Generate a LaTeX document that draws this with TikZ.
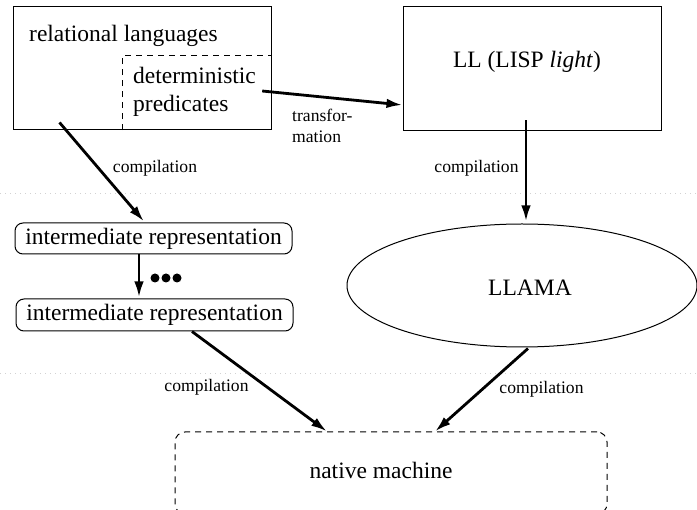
\documentclass[tikz,border=0pt]{standalone}
\usepackage{fontspec}
\setmainfont{Liberation Serif}
\usetikzlibrary{shapes.geometric,arrows.meta,calc}
\begin{document}
\begin{tikzpicture}[x=1pt,y=-1pt,
  big/.style={font=\fontsize{23.5}{28}\selectfont, inner sep=0pt},
  small/.style={font=\fontsize{17.6}{21}\selectfont, inner sep=0pt},
  plainbox/.style={draw, line width=1pt, inner sep=0pt},
  roundbox/.style={draw, line width=1pt, rounded corners=8pt, inner sep=0pt, font=\fontsize{23.5}{28}\selectfont},
  dashbox/.style={draw, line width=1pt, dash pattern=on 6pt off 5pt, rounded corners=10pt, inner sep=0pt},
  arr/.style={line width=2.8pt, -{Latex[length=16pt,width=9.5pt]}},
  sep/.style={draw=gray!35, line width=0.8pt, dash pattern=on 0.8pt off 4.2pt}
]
\useasboundingbox (0,0) rectangle (697,510);
% faint separators
\draw[sep] (0,193) -- (697,193);
\draw[sep] (0,373) -- (697,373);

% boxes
\node[plainbox, minimum width=258pt, minimum height=123pt] (rel) at (142,68.5) {};
\node[inner sep=0pt, minimum width=148pt, minimum height=74pt] (det) at (197,93) {};
\draw[line width=1pt, dash pattern=on 6pt off 5pt] (det.south west) |- (det.north east);
\node[plainbox, minimum width=258pt, minimum height=124pt] (LL) at (532,69) {};
\node[roundbox, minimum width=277pt, minimum height=31pt] (IR1) at (153.5,238.5) {intermediate representation};
\node[roundbox, minimum width=277pt, minimum height=32pt] (IR2) at (154.5,315) {intermediate representation};
\node[draw, ellipse, line width=1pt, minimum width=350pt, minimum height=123pt, inner sep=0pt] (LLAMA) at (522,285.5) {};
\node[dashbox, minimum width=432pt, minimum height=82pt] (native) at (391,473) {};

% texts
\node[big, anchor=west] (reltext) at (29,36) {relational languages};
\node[big, anchor=west, align=left] (dettext) at (133,92) {deterministic\\predicates};
\node[big] (LLtext) at (527,62) {LL (LISP \textit{light})};
\node[big] (LLAMAtext) at (530,288) {LLAMA};
\node[big] (nativetext) at (381,470) {native machine};

% arrows
\draw[arr] ($(rel.south west)+(47,-8)$) -- ($(IR1.north)+(-9.5,-1)$);
\draw[arr] ($(det.east)+(-9,-2)$) -- ($(LL.west)+(0,36)$);
\draw[arr] ($(LL.south)+(-6,-11)$) -- ($(LLAMA.north)+(4,-2)$);
\draw[arr] ($(IR1.south)+(-14.5,0)$) -- ($(IR2.north)+(-15.5,-1)$);
\draw[arr] ($(IR2.south)+(37.5,0)$) -- ($(native.north)+(-64,0)$);
\draw[arr] ($(LLAMA.south)+(6,1)$) -- ($(native.north)+(44,0)$);

% dots
\fill (155,278) circle (4.5pt) (166,278) circle (4.5pt) (177,278) circle (4.5pt);

% labels
\node[small] (c1) at (155,168) {compilation};
\node[small, anchor=west, align=left] (tr) at (292,125.5) {transfor-\\mation};
\node[small] (c2) at (476.5,168) {compilation};
\node[small] (c3) at (206.5,387) {compilation};
\node[small] (c4) at (541.5,389) {compilation};
\end{tikzpicture}
\end{document}
